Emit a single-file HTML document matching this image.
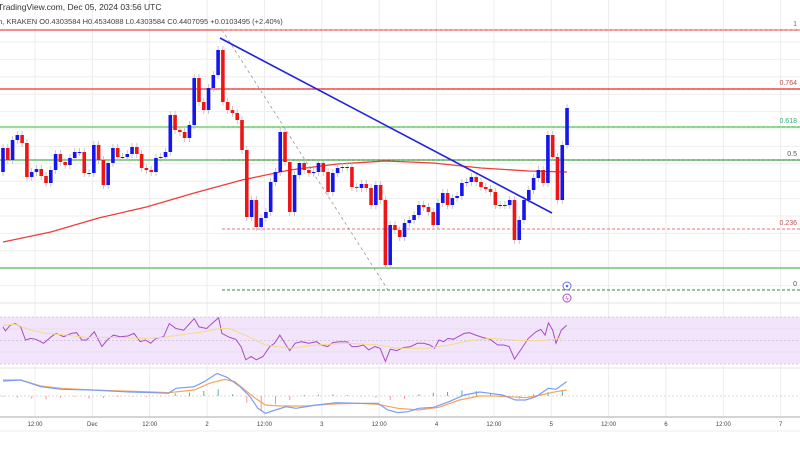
<!DOCTYPE html>
<html><head><meta charset="utf-8"><style>
html,body{margin:0;padding:0;background:#fff;width:800px;height:450px;overflow:hidden}
svg{display:block;font-family:"Liberation Sans",sans-serif}
</style></head><body>
<svg id="c" width="800" height="450" viewBox="0 0 800 450"></svg>
<script>
// ---- data ----
const firstOpen = 0.4304;
const closes = [0.4376,0.4340,0.4400,0.4415,0.4391,0.4289,0.4304,0.4313,0.4292,0.4271,0.4310,0.4358,0.4334,0.4325,0.4346,0.4364,0.4364,0.4301,0.4301,0.4385,0.4340,0.4265,0.4331,0.4376,0.4349,0.4349,0.4358,0.4379,0.4358,0.4316,0.4310,0.4304,0.4346,0.4349,0.4364,0.4475,0.4430,0.4424,0.4406,0.4445,0.4586,0.4514,0.4490,0.4556,0.4595,0.4670,0.4514,0.4490,0.4481,0.4460,0.4370,0.4169,0.4220,0.4139,0.4166,0.4184,0.4274,0.4304,0.4424,0.4334,0.4184,0.4295,0.4331,0.4310,0.4301,0.4304,0.4331,0.4304,0.4244,0.4301,0.4316,0.4319,0.4319,0.4259,0.4256,0.4268,0.4256,0.4205,0.4265,0.4220,0.4025,0.4145,0.4130,0.4109,0.4151,0.4160,0.4175,0.4205,0.4199,0.4184,0.4145,0.4211,0.4241,0.4205,0.4226,0.4232,0.4271,0.4274,0.4289,0.4274,0.4259,0.4253,0.4244,0.4205,0.4205,0.4205,0.4220,0.4100,0.4160,0.4220,0.4250,0.4286,0.4310,0.4271,0.4415,0.4349,0.4220,0.4385,0.4496];
const maIdx = [0,10,20,30,40,50,60,70,80,90,100,110,118];
const maVals = [0.4094,0.4124,0.4166,0.4199,0.4241,0.4280,0.4310,0.4328,0.4337,0.4331,0.4316,0.4307,0.4304];
const fibLevels = ["1","0.764","0.618","0.5","0.236","0"];
const fibPrices = [0.4730,0.4553,0.4439,0.4340,0.4133,0.3950];
const rsiIdx = [0,0.5,1.5,2.6,3.7,4.7,5.8,6.9,8.5,10.1,11.1,12.7,14.3,15.4,16.5,17.5,19.1,20.7,21.8,23.1,24.5,26.1,27.4,28.7,29.8,30.9,32,33.6,34.8,36.2,37.8,40,41,42.6,43.7,45.1,45.8,47.4,48.7,49.8,50.8,51.9,53,54.4,55.8,56.8,57.9,59.2,60,61.1,62.4,64,65.6,66.6,67.9,69,70.4,72,73,74.1,75.4,76.5,77.8,78.9,80,81,82.4,83.7,85.3,86.7,88,89.3,90.3,91.2,92.2,93.1,94.2,95.2,96.5,97.6,98.9,100.3,101.9,103.5,104.8,105.9,107,108.3,109.9,111.5,112.5,113.4,114.1,115,115.7,116.8,117.9];
const rsiVals = [61.6,58.2,63,64.4,61.6,50.4,51.8,51,47.6,53.2,56,53.2,56,56.6,50.4,50.4,57.4,44.8,50.4,54.6,53.2,53.8,56,49,50.4,47.6,51.8,53.2,64.4,60.2,58.8,68.6,61.6,60.2,64.4,69.4,56,52.6,51,44.8,33.6,36.4,33.6,36.4,44.8,47.6,54.6,46.2,41.4,47.6,49,47.6,49,46.2,44.8,48.2,49,49,44.8,44.8,46.2,42,44.8,43.4,32.2,42.6,41.4,44,44.8,47.6,47.6,46.2,43.4,50.4,49,51.8,51,53.2,56,56.6,54.6,52.6,51,46.2,46.2,44.8,34.2,42,51.8,57.4,59.4,54.6,65,58.8,47.6,58.8,63];
const rsiMaIdx = [0,2.6,5.8,9,13.3,17.5,22.9,29.3,33.6,37.8,42.1,45.3,47.4,50.6,54.9,60.2,65.6,72,78.4,82.6,89.1,93.3,97.6,101.9,105.1,108.3,112.5,116.8];
const rsiMaVals = [63,63.8,58.8,56,54.6,52.6,52.6,51.8,52.6,55.2,57.4,60.2,60.2,54.6,46.2,43.4,46.2,47.6,46.2,43.4,43.4,46.2,49.8,51.8,51,49.8,49.8,51.8];
const macdIdx = [0,3.7,7.9,12.2,18.6,25,31.4,34.6,36.2,40,42.1,44.8,46.9,49.6,51.7,53.3,54.9,57,59.2,61.3,65.6,69.8,74.1,78.4,80.5,82.6,84.8,86.9,90.1,93.3,96.5,99.7,101.9,104.5,107.2,109.3,111.5,114.1,115.7,117.9];
const macdVals = [4.5,4.8,2.8,2.0,1.8,1.3,1.0,0.8,2.3,2.8,4.3,6.8,5.6,2.8,-0.2,-3.7,-5.2,-4.2,-3.2,-3.7,-2.7,-2.0,-2.2,-2.2,-4.2,-5.0,-4.7,-3.7,-3.4,-1.7,0.3,1.2,0.8,0.3,-1.2,-1.2,-0.2,2.3,2.0,4.3];
const sigIdx = [0,3.7,7.9,12.2,18.6,25,31.4,34.6,40,43.2,46.4,48.5,50.6,52.8,54.9,58.1,63.4,68.8,74.1,78.4,82.6,86.9,91.2,95.5,99.7,102.9,106.1,109.3,112.5,115.7,117.9];
const sigVals = [4.8,4.8,3.0,2.3,1.8,1.5,1.2,1.0,1.8,3.8,5.0,4.3,1.8,-0.7,-2.7,-3.0,-3.0,-2.4,-2.2,-2.5,-3.7,-4.2,-3.4,-1.2,0,0,-0.2,-0.5,0.3,1.3,1.8];
const histIdx = [0,3,6,9,12,15,18,21,24,27,30,33,36,39,42,45,48,51,54,57,60,63,66,69,72,75,78,81,84,87,90,93,96,99,102,105,108,111,114,117];
const histVals = [-0.3,-0.5,-0.8,-1.0,-0.5,-0.3,-0.8,-0.6,-0.3,-0.2,-0.3,-0.2,0.8,1.0,1.5,2.0,0.5,-2.0,-4.5,-2.5,-1.2,0.3,0.4,0.5,0.3,-0.2,-0.5,-1.2,-0.8,0.5,1.0,1.2,1.7,1.5,0.8,0.2,-0.8,0.5,1.2,1.8];
const xLabels = ["12:00","Dec","12:00","2","12:00","3","12:00","4","12:00","5","12:00","6","12:00","7"];
const xLabelHours = [12,24,36,48,60,72,84,96,108,120,132,144,156,168];

// ---- axes ----
const HOUR0 = 5.9; // candle index 0 is this many hours after first label origin
const xAt = i => 3 + i*4.78;
const xHour = h => xAt(h - 12 - 6.7 + 0) ; // label hour to x
const yP = p => (4820 - p*10000)/3;
const yR = v => 317 + (70 - v)/40*47;
const yM = v => 396 - v*3.33;

const svg = document.getElementById('c');
const NS = 'http://www.w3.org/2000/svg';
function mk(tag, attrs, parent){const e=document.createElementNS(NS,tag);for(const k in attrs)e.setAttribute(k,attrs[k]);(parent||svg).appendChild(e);return e;}

// grid
const grid = mk('g',{});


for(let y=42;y<300;y+=17.4) mk('line',{x1:0,x2:800,y1:y,y2:y,stroke:'#eeeeee','stroke-width':1},grid);
xLabelHours.forEach(h=>{const x=35+(h-12)*4.78;mk('line',{x1:x,x2:x,y1:0,y2:417,stroke:'#ececec','stroke-width':1},grid);});

// header
const h1 = mk('text',{x:-2,y:10,'font-size':8.5,fill:'#333'}); h1.textContent='TradingView.com, Dec 05, 2024 03:56 UTC';


const h2 = mk('text',{x:-2,y:24,'font-size':7.5,fill:'#444'}); h2.textContent='h, KRAKEN  O0.4303584  H0.4534088  L0.4303584  C0.4407095  +0.0103495 (+2.40%)';



// horizontal levels
const lv = mk('g',{});


mk('line',{x1:0,x2:800,y1:yP(fibPrices[0]),y2:yP(fibPrices[0]),stroke:'#f04848','stroke-width':1.2},lv);
mk('line',{x1:0,x2:800,y1:yP(fibPrices[1]),y2:yP(fibPrices[1]),stroke:'#f05050','stroke-width':1.6},lv);
mk('line',{x1:0,x2:800,y1:yP(fibPrices[2]),y2:yP(fibPrices[2]),stroke:'#7ccf7c','stroke-width':1.6},lv);
mk('line',{x1:0,x2:800,y1:yP(fibPrices[3]),y2:yP(fibPrices[3]),stroke:'#4caf50','stroke-width':1.2},lv);
mk('line',{x1:0,x2:800,y1:268,y2:268,stroke:'#5cb85c','stroke-width':1.2},lv);
const fibColors=['#f08080','#e04040','#5cc05c','#2e8b2e','#f07070','#2e8b2e'];
fibPrices.forEach((p,i)=>{
  const l=mk('line',{x1:222,x2:800,y1:yP(p),y2:yP(p),stroke:fibColors[i],'stroke-width':1,'stroke-dasharray':'3,2'});
  
  
  const t=mk('text',{x:797,y:yP(p)-4,'font-size':7,fill:i==2?'#3cab7a':(i==0||i==1||i==4?'#c05050':'#555'),'text-anchor':'end'});
  t.textContent=fibLevels[i];
  
  
});

// gray dashed diagonal
const gd=mk('line',{x1:222,y1:30,x2:388,y2:290,stroke:'#999','stroke-width':0.8,'stroke-dasharray':'3,3'});



// MA
let d='';maIdx.forEach((i,k)=>{d+=(k?'L':'M')+xAt(i).toFixed(1)+','+yP(maVals[k]).toFixed(1);});
const ma=mk('path',{d:d,fill:'none',stroke:'#f03c3c','stroke-width':1.3});



// candles
const cg=mk('g',{});


closes.forEach((c,i)=>{
  const o=i?closes[i-1]:firstOpen;
  const up=c>=o;const col=up?'#1515ee':'#ee1515';
  const x=xAt(i);const yt=yP(Math.max(o,c)),yb=yP(Math.min(o,c));
  const w=mk('line',{x1:x,x2:x,y1:yt-4,y2:yb+4,stroke:'#bbb','stroke-width':0.8},cg);
  
  
  const r=mk('rect',{x:x-1.8,y:yt,width:3.6,height:Math.max(1,yb-yt),fill:col},cg);
  
  
});

// blue trend line
const tl=mk('line',{x1:220,y1:38,x2:552,y2:213,stroke:'#2323dd','stroke-width':1.6});



// icons
const ic1=mk('circle',{cx:567,cy:286,r:4,fill:'#fff',stroke:'#6a6af0','stroke-width':1});


mk('circle',{cx:567,cy:286,r:1.3,fill:'#6a6af0'});
const ic2=mk('circle',{cx:567,cy:298,r:4,fill:'#fff',stroke:'#b04ad0','stroke-width':1});


const it=mk('text',{x:567,y:300.5,'font-size':6,fill:'#b04ad0','text-anchor':'middle'});it.textContent='ϟ';



// panel separators
[303,368].forEach(y=>mk('line',{x1:0,x2:800,y1:y,y2:y,stroke:'#e4e4e4','stroke-width':1}));

// RSI panel
const band=mk('rect',{x:0,y:317,width:800,height:47,fill:'#f2e5fb'});


[317,340.5,364].forEach(y=>mk('line',{x1:0,x2:800,y1:y,y2:y,stroke:'#c9c0d0','stroke-width':0.7,'stroke-dasharray':'2,2'}));
[329,352].forEach(y=>mk('line',{x1:0,x2:800,y1:y,y2:y,stroke:'#e6dcec','stroke-width':1}));
d='';rsiIdx.forEach((i,k)=>{d+=(k?'L':'M')+xAt(i).toFixed(1)+','+yR(rsiVals[k]).toFixed(1);});
const rl=mk('path',{d:d,fill:'none',stroke:'#a84bc2','stroke-width':1});


d='';rsiMaIdx.forEach((i,k)=>{d+=(k?'L':'M')+xAt(i).toFixed(1)+','+yR(rsiMaVals[k]).toFixed(1);});
const rm=mk('path',{d:d,fill:'none',stroke:'#f5d98a','stroke-width':1});



// MACD panel
mk('line',{x1:0,x2:800,y1:yM(0),y2:yM(0),stroke:'#ccc','stroke-width':0.7,'stroke-dasharray':'2,2'});
histIdx.forEach((i,k)=>{
  const v=histVals[k];
  const b=mk('rect',{x:xAt(i)-0.4,y:Math.min(yM(0),yM(v)),width:0.9,height:Math.abs(yM(v)-yM(0)),fill:v>=0?'#3fae92':'#f48a8a'});
  
  
});
d='';sigIdx.forEach((i,k)=>{d+=(k?'L':'M')+xAt(i).toFixed(1)+','+yM(sigVals[k]).toFixed(1);});
const sl=mk('path',{d:d,fill:'none',stroke:'#f7a35c','stroke-width':1.2});


d='';macdIdx.forEach((i,k)=>{d+=(k?'L':'M')+xAt(i).toFixed(1)+','+yM(macdVals[k]).toFixed(1);});
const ml=mk('path',{d:d,fill:'none',stroke:'#7a9cf5','stroke-width':1.2});



// time axis
const ax=mk('line',{x1:0,x2:800,y1:417,y2:417,stroke:'#bbb','stroke-width':1.2});


mk('line',{x1:0,x2:800,y1:431,y2:431,stroke:'#eee','stroke-width':1});
xLabels.forEach((s,k)=>{
  const t=mk('text',{x:35+(xLabelHours[k]-12)*4.78,y:426,'font-size':6,fill:'#444','text-anchor':'middle'});
  t.textContent=s;
  
  
});
</script>
</body></html>
